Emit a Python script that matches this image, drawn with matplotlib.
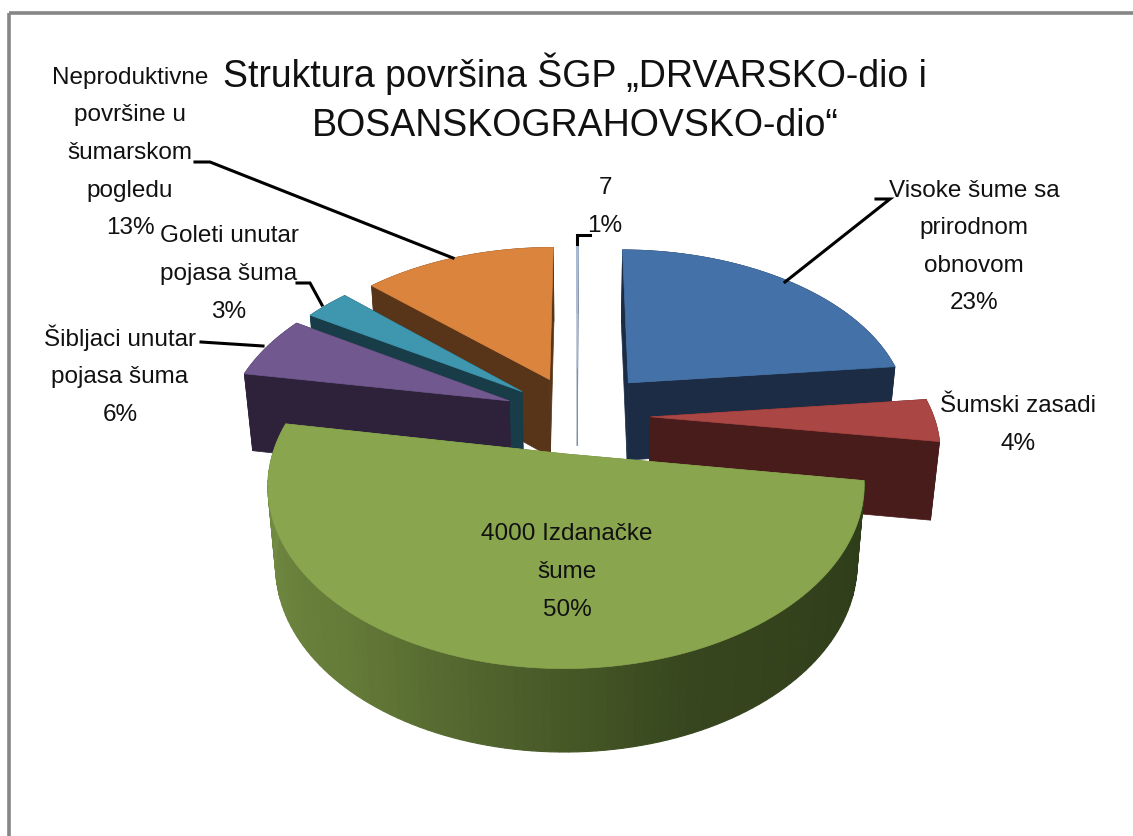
# -*- coding: utf-8 -*-

import matplotlib
matplotlib.use('Agg')
import matplotlib.pyplot as plt
import numpy as np

names = ['Visoke šume sa\nprirodnom\nobnovom', 'Šumski zasadi', '4000 Izdanačke\nšume',
         'Šibljaci unutar\npojasa šuma', 'Goleti unutar\npojasa šuma',
         'Neproduktivne\npovršine u\nšumarskom\npogledu', '7']
values = [1840, 320, 4000, 480, 240, 1040, 7]
shares = [23, 4, 50, 6, 3, 13, 1]
title = 'Struktura površina ŠGP „DRVARSKO-dio i\nBOSANSKOGRAHOVSKO-dio“'

# style per slice
top_colors = ['#4472a8', '#aa4643', '#89a54e', '#71588f', '#3e96af', '#db843d', '#a9bee0']
wall_colors = ['#1b2c44', '#481c1a', '#6f8a40', '#2d223a', '#183d48', '#583418', '#7f8ea8']
explode = [0.28, 0.26, 0.225, 0.26, 0.25, 0.25, 0.3]
draw_order = [6, 0, 5, 4, 3, 1, 2]
label_pos = [(974, 247), (1018, 425), (567, 572), (120, 375), (229, 274), (130, 153), (605, 207)]
leaders = [[(876, 199), (890, 199), (785, 282)],
           None,
           None,
           [(201, 342), (263, 346)],
           [(297, 283), (310, 283), (322, 305)],
           [(195, 162), (210, 162), (453, 258)],
           [(590, 235), (577, 235), (577, 244)]]
green_stops = [(118, 145, 70), (100, 122, 56), (55, 70, 30), (45, 60, 25)]

cx, cy = 577, 416
fx, fy, k = 283, 165, 0.165
depth = 78
rotation = 0.3


def project(x, y, z=0.0):
    w = 1 + k * y
    shrink = 1 - 0.025 * z
    return cx + fx * x / w * shrink, cy - fy * y / w + depth * z / w ** 0.3


fig = plt.figure(figsize=(11.33, 8.36), dpi=100)
ax = fig.add_axes([0, 0, 1, 1])
ax.set_xlim(0, 1133)
ax.set_ylim(836, 0)
ax.axis('off')

ax.plot([9, 9], [836, 13], color='#868686', lw=2.6, solid_capstyle='butt')
ax.plot([9, 1133], [13, 13], color='#868686', lw=2.6, solid_capstyle='butt')

edges = np.cumsum([0] + values) / sum(values) * 360 + rotation
for i in draw_order:
    start, end = np.radians(edges[i]), np.radians(edges[i + 1])
    mid = (start + end) / 2
    ox, oy = explode[i] * np.sin(mid), explode[i] * np.cos(mid)
    t = np.linspace(start, end, 120)
    rx, ry = ox + np.sin(t), oy + np.cos(t)
    tx, ty = project(rx, ry)
    bx, by = project(rx, ry, 1)
    ax0, ay0 = project(ox, oy)
    ax1, ay1 = project(ox, oy, 1)

    for j in (0, -1):
        ax.fill([ax0, tx[j], bx[j], ax1], [ay0, ty[j], by[j], ay1], color=wall_colors[i], lw=0.5)
    if i == 2:
        pos = np.linspace(0, 1, len(t) - 1)[::-1]
        stops = np.array(green_stops) / 255
        grid = np.linspace(0, 1, len(stops))
        shades = np.array([np.interp(pos, grid, stops[:, c]) for c in range(3)]).T
        for j in range(len(t) - 1):
            ax.fill([tx[j], tx[j + 1], bx[j + 1], bx[j]], [ty[j], ty[j + 1], by[j + 1], by[j]],
                    color=shades[j], lw=0.8)
    else:
        ax.fill(np.r_[tx, bx[::-1]], np.r_[ty, by[::-1]], color=wall_colors[i], lw=0.5)
    ax.fill(np.r_[ax0, tx], np.r_[ay0, ty], color=top_colors[i], lw=0.5)

for name, share, pos, line in zip(names, shares, label_pos, leaders):
    ax.text(pos[0], pos[1], f'{name}\n{share}%', family='Liberation Sans', fontsize=17.5,
            ha='center', va='center', linespacing=1.92, color='#111111')
    if line:
        ax.plot(*zip(*line), color='black', lw=2.2, solid_joinstyle='miter')

ax.text(575, 98, title, family='Liberation Sans', fontsize=27, ha='center', va='center',
        linespacing=1.48, color='#111111')

fig.savefig('out.png', dpi=100)
